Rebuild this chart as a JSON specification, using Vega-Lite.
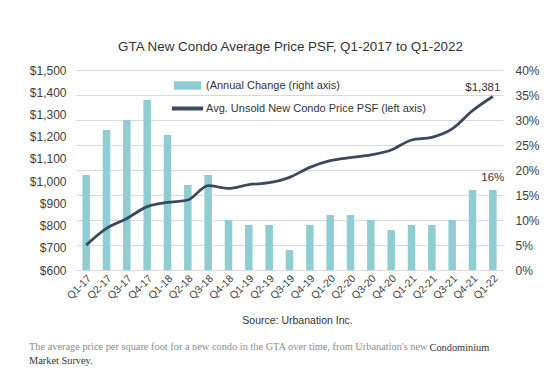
{
  "$schema": "https://vega.github.io/schema/vega-lite/v6.json",
  "width": 427,
  "height": 200,
  "autosize": {"type": "none"},
  "padding": {"left": 76, "top": 70, "right": 57, "bottom": 112},
  "background": "white",
  "config": {
    "font": "Liberation Sans",
    "view": {"stroke": null},
    "axis": {"labelFont": "Liberation Sans", "titleFont": "Liberation Sans"}
  },
  "title": {
    "text": "The average price per square foot for a new condo in the GTA over time, from Urbanation's new",
    "subtitle": "Market Survey.",
    "orient": "bottom",
    "anchor": "start",
    "frame": "group",
    "dx": -47,
    "offset": -10,
    "font": "Liberation Serif",
    "fontSize": 10.35,
    "fontWeight": "normal",
    "color": "#8c8c8c",
    "subtitleFont": "Liberation Serif",
    "subtitleFontSize": 10.35,
    "subtitleColor": "#333333",
    "subtitlePadding": 3
  },
  "data": {
    "values": [
      {"quarter": "Q1-17", "change": 0.19, "price": 712},
      {"quarter": "Q2-17", "change": 0.28, "price": 787},
      {"quarter": "Q3-17", "change": 0.30, "price": 832},
      {"quarter": "Q4-17", "change": 0.34, "price": 885},
      {"quarter": "Q1-18", "change": 0.27, "price": 904},
      {"quarter": "Q2-18", "change": 0.17, "price": 915},
      {"quarter": "Q3-18", "change": 0.19, "price": 980},
      {"quarter": "Q4-18", "change": 0.10, "price": 967},
      {"quarter": "Q1-19", "change": 0.09, "price": 984},
      {"quarter": "Q2-19", "change": 0.09, "price": 993},
      {"quarter": "Q3-19", "change": 0.04, "price": 1017},
      {"quarter": "Q4-19", "change": 0.09, "price": 1062},
      {"quarter": "Q1-20", "change": 0.11, "price": 1092},
      {"quarter": "Q2-20", "change": 0.11, "price": 1106},
      {"quarter": "Q3-20", "change": 0.10, "price": 1118},
      {"quarter": "Q4-20", "change": 0.08, "price": 1140},
      {"quarter": "Q1-21", "change": 0.09, "price": 1185},
      {"quarter": "Q2-21", "change": 0.09, "price": 1197},
      {"quarter": "Q3-21", "change": 0.10, "price": 1235},
      {"quarter": "Q4-21", "change": 0.16, "price": 1317},
      {"quarter": "Q1-22", "change": 0.16, "price": 1381}
    ]
  },
  "layer": [
    {
      "mark": {"type": "bar"},
      "encoding": {
        "x": {
          "field": "quarter", "type": "ordinal", "sort": null,
          "scale": {"paddingInner": 0.63, "paddingOuter": 0.315},
          "axis": {
            "labelAngle": -45, "labelFontSize": 10.5, "labelColor": "#404040",
            "ticks": false, "domain": false, "labelPadding": 3,
            "title": "Source: Urbanation Inc.", "titleFontSize": 10.5, "titleFontWeight": "normal",
            "titleColor": "#333333", "titleX": 221, "titleY": 50, "titleAlign": "center", "titleBaseline": "middle"
          }
        },
        "y": {
          "field": "change", "type": "quantitative",
          "scale": {"domain": [0, 0.4], "nice": false, "zero": true},
          "axis": {
            "orient": "right", "values": [0, 0.05, 0.1, 0.15, 0.2, 0.25, 0.3, 0.35, 0.4],
            "format": ".0%", "grid": true, "gridColor": "#d9d9d9", "gridWidth": 1.2,
            "labelOverlap": false,
            "domain": false, "ticks": false, "labelPadding": 12, "labelFontSize": 12,
            "labelColor": "#404040", "title": "Condominium", "titleAngle": 0, "titleAlign": "left",
            "titleBaseline": "alphabetic", "titleX": -74, "titleY": 280, "titleFont": "Liberation Serif",
            "titleFontSize": 10.35, "titleFontWeight": "normal", "titleColor": "#333333"
          }
        },
        "color": {
          "datum": "(Annual Change (right axis)",
          "scale": {
            "domain": ["(Annual Change (right axis)", "Avg. Unsold New Condo Price PSF (left axis)"],
            "range": ["#8fcdd3", "#3c4860"]
          },
          "legend": {
            "orient": "none", "legendX": 97, "legendY": 1, "title": null,
            "labelFontSize": 11, "labelColor": "#333333", "labelFont": "Liberation Sans", "labelLimit": 400,
            "symbolSize": 729, "rowPadding": 1, "labelOffset": 4, "padding": 0,
            "encode": {
              "symbols": {
                "update": {
                  "shape": {"signal": "datum.value === '(Annual Change (right axis)' ? 'M-0.96,-0.26H0.96V0.26H-0.96Z' : 'M-1.1,-0.1H1.1V0.1H-1.1Z'"},
                  "fill": {"scale": "color", "field": "value"},
                  "stroke": {"value": "transparent"},
                  "opacity": {"value": 1}
                }
              }
            }
          }
        }
      }
    },
    {
      "mark": {"type": "line", "strokeWidth": 2.8, "interpolate": "monotone"},
      "encoding": {
        "x": {"field": "quarter", "type": "ordinal", "sort": null},
        "y": {
          "field": "price", "type": "quantitative",
          "scale": {"domain": [600, 1500], "nice": false, "zero": false},
          "axis": {
            "orient": "left", "values": [600, 700, 800, 900, 1000, 1100, 1200, 1300, 1400, 1500],
            "format": "$,.0f", "grid": false, "domain": false, "ticks": false,
            "labelOverlap": false,
            "labelPadding": 10, "labelFontSize": 12, "labelColor": "#404040",
            "title": "GTA New Condo Average Price PSF, Q1-2017 to Q1-2022",
            "titleAngle": 0, "titleAlign": "center", "titleBaseline": "middle",
            "titleX": 214, "titleY": -24, "titleFontSize": 13.4, "titleFontWeight": "normal",
            "titleColor": "#333333"
          }
        },
        "color": {"datum": "Avg. Unsold New Condo Price PSF (left axis)"}
      }
    },
    {
      "transform": [{"filter": "datum.quarter === 'Q1-22'"}],
      "mark": {"type": "text", "dy": -12, "fontSize": 11.5, "color": "#333333"},
      "encoding": {
        "x": {"field": "quarter", "type": "ordinal", "sort": null},
        "y": {"field": "change", "type": "quantitative", "scale": {"domain": [0, 0.4], "nice": false, "zero": true}, "axis": null},
        "text": {"field": "change", "format": ".0%"}
      }
    },
    {
      "transform": [{"filter": "datum.quarter === 'Q1-22'"}],
      "mark": {"type": "text", "dy": -8, "dx": -10, "fontSize": 11.5, "color": "#333333"},
      "encoding": {
        "x": {"field": "quarter", "type": "ordinal", "sort": null},
        "y": {"field": "price", "type": "quantitative", "scale": {"domain": [600, 1500], "nice": false, "zero": false}, "axis": null},
        "text": {"field": "price", "format": "$,.0f"}
      }
    }
  ],
  "resolve": {"scale": {"y": "independent"}}
}
